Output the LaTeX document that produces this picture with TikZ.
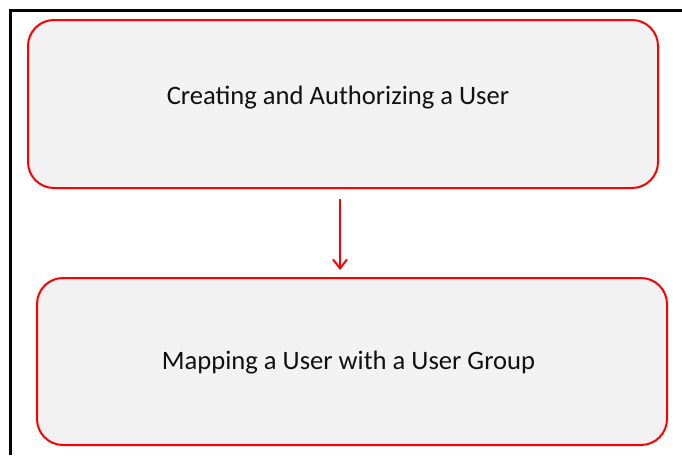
\documentclass[tikz,border=0pt]{standalone}
\usepackage{fontspec}
\setmainfont{Carlito}
\usetikzlibrary{arrows.meta}
\definecolor{boxfill}{HTML}{F2F2F2}
\definecolor{boxred}{HTML}{FF0000}
\definecolor{txt}{HTML}{111111}
\tikzset{
  procbox/.style={draw=boxred, line width=2pt, fill=boxfill, rounded corners=26pt, inner sep=0pt},
  proctext/.style={font=\fontsize{26.6}{30}\selectfont, text=txt, inner sep=0pt},
  flowarrow/.style={draw=boxred, line width=2pt, -{Straight Barb[length=9pt,width=14pt,line width=2pt]}}
}
\begin{document}
\begin{tikzpicture}[x=1pt,y=-1pt]
\useasboundingbox (0,0) rectangle (682,455);
\draw[line width=3pt] (10.5,455) -- (10.5,10.5) -- (682,10.5);
\node[procbox, minimum width=630pt, minimum height=168pt] (a) at (343,104) {};
\node[procbox, minimum width=630pt, minimum height=167pt] (b) at (352,361.5) {};
\node[proctext] (at) at (338,98) {Creating and Authorizing a User};
\node[proctext] (bt) at (348.5,362.5) {Mapping a User with a User Group};
\coordinate (s) at (340,199);
\coordinate (e) at (340,270);
\draw[flowarrow] (s) -- (e);
\end{tikzpicture}
\end{document}
